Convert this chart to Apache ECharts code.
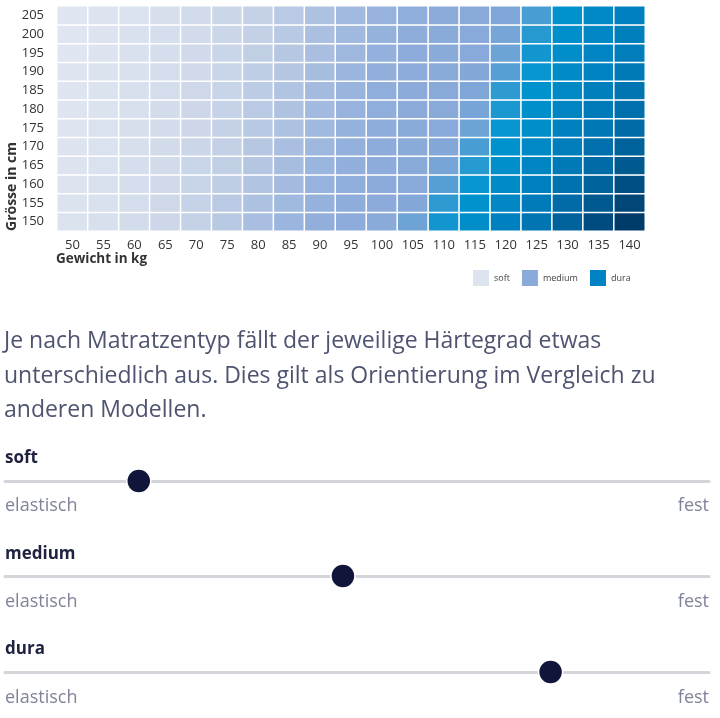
<!DOCTYPE html>
<html>
<head>
<meta charset="utf-8">
<script src="https://cdn.jsdelivr.net/npm/echarts@6/dist/echarts.min.js"></script>
<style>
  html, body { margin: 0; padding: 0; background: #fff; }
  #main { width: 720px; height: 718px; }
</style>
</head>
<body>
<div id="main"></div>
<script>
// axis categories
const weights = ['50', '55', '60', '65', '70', '75', '80', '85', '90', '95', '100',
    '105', '110', '115', '120', '125', '130', '135', '140'];
const heights = ['150', '155', '160', '165', '170', '175', '180', '185', '190', '195', '200', '205'];

// estimated hardness per cell (0 = softest, 100 = hardest), one array per height, weight 50..140
const h150 = [3, 6, 10, 14, 19, 25, 32, 38, 43, 46, 48, 55, 63, 69, 75, 81, 88, 95, 100];
const h155 = [3, 5, 9, 13, 18, 24, 30, 36, 41, 45, 47, 51, 60, 66, 72, 78, 85, 91, 97];
const h160 = [2, 5, 8, 12, 17, 22, 28, 34, 40, 44, 47, 50, 57, 64, 70, 75, 82, 88, 94];
const h165 = [2, 4, 8, 11, 16, 21, 27, 33, 38, 43, 46, 49, 53, 61, 68, 73, 79, 85, 91];
const h170 = [2, 4, 7, 11, 15, 20, 26, 32, 37, 42, 46, 48, 51, 58, 66, 71, 77, 83, 88];
const h175 = [1, 4, 7, 10, 14, 19, 25, 30, 36, 41, 45, 48, 50, 55, 64, 69, 75, 80, 85];
const h180 = [1, 3, 6, 10, 14, 18, 24, 29, 35, 40, 44, 47, 49, 53, 62, 68, 73, 78, 83];
const h185 = [1, 3, 6, 9, 13, 17, 23, 28, 34, 39, 44, 47, 49, 52, 60, 66, 71, 76, 81];
const h190 = [1, 3, 5, 9, 12, 16, 22, 27, 33, 38, 43, 46, 48, 51, 57, 64, 70, 74, 79];
const h195 = [0, 2, 5, 8, 12, 16, 21, 26, 32, 37, 42, 46, 48, 50, 55, 63, 69, 73, 77];
const h200 = [0, 2, 5, 8, 11, 15, 20, 25, 31, 36, 41, 45, 48, 50, 53, 61, 68, 72, 76];
const h205 = [0, 2, 4, 7, 11, 15, 19, 24, 30, 35, 40, 44, 47, 49, 52, 58, 66, 71, 75];
const hardnessRows = [h150, h155, h160, h165, h170, h175, h180, h185, h190, h195, h200, h205];

// mattress types and where each sits between elastisch (0) and fest (100)
const types = ['soft', 'medium', 'dura'];
const typeColors = ['#dce4ef', '#8aaadb', '#0082c4'];
const sliderValues = [19, 48, 77.5];

const paragraph = [
    'Je nach Matratzentyp fällt der jeweilige Härtegrad etwas',
    'unterschiedlich aus. Dies gilt als Orientierung im Vergleich zu',
    'anderen Modellen.'
];

let heatData = [];
hardnessRows.forEach((row, y) => {
    row.forEach((v, x) => heatData.push([x, y, v]));
});

const FONT = '"Open Sans", "Noto Sans", sans-serif';
const sliderTop = [479, 574, 670];
const labelY = [457, 553, 648];
const endY = [505, 601, 697];

let chart = echarts.init(document.getElementById('main'));

let grids = [{left: 57, top: 6, width: 588, height: 225}];
let xAxes = [{
    type: 'category', data: weights, gridIndex: 0,
    axisLine: {show: false}, axisTick: {show: false}, splitArea: {show: false},
    axisLabel: {margin: 8, fontSize: 13, color: '#333', fontFamily: FONT}
}];
let yAxes = [{
    type: 'category', data: heights, gridIndex: 0,
    axisLine: {show: false}, axisTick: {show: false},
    axisLabel: {margin: 13, fontSize: 13, color: '#333', fontFamily: FONT}
}];

let series = [{
    type: 'heatmap',
    xAxisIndex: 0, yAxisIndex: 0,
    data: heatData,
    itemStyle: {borderColor: '#fff', borderWidth: 1.5},
    emphasis: {disabled: true}
}];

// empty series only for the legend swatches
types.forEach((t, i) => {
    series.push({
        name: t, type: 'scatter', xAxisIndex: 0, yAxisIndex: 0,
        data: [], itemStyle: {color: typeColors[i], opacity: 1}
    });
});

let graphics = [
    {type: 'text', left: 56, top: 252,
        style: {text: 'Gewicht in kg', font: 'bold 13.5px ' + FONT, fill: '#333'}},
    {type: 'text', x: 5, y: 231, rotation: Math.PI / 2,
        style: {text: 'Grösse in cm', font: 'bold 14px ' + FONT, fill: '#333',
            align: 'left', verticalAlign: 'top'}}
];

paragraph.forEach((line, i) => {
    graphics.push({type: 'text', left: 4, top: 330 + i * 34.5,
        style: {text: line, font: '23px ' + FONT, fill: '#4e5370'}});
});

types.forEach((t, i) => {
    let gi = i + 1;
    grids.push({left: 5, width: 704, top: sliderTop[i], height: 2});
    xAxes.push({
        type: 'value', gridIndex: gi, min: 0, max: 100,
        axisLine: {show: true, onZero: false, lineStyle: {color: '#d4d5db', width: 3}},
        axisTick: {show: false}, axisLabel: {show: false}, splitLine: {show: false}
    });
    yAxes.push({type: 'value', gridIndex: gi, min: 0, max: 1, show: false});
    series.push({
        type: 'scatter', xAxisIndex: gi, yAxisIndex: gi,
        data: [[sliderValues[i], 0]],
        symbolSize: 24,
        itemStyle: {color: '#10163a', borderColor: '#fff', borderWidth: 1.5, opacity: 1},
        emphasis: {disabled: true}
    });
    graphics.push(
        {type: 'text', left: 5, top: labelY[i] - 7,
            style: {text: t, font: 'bold 17px ' + FONT, fill: '#1e2240'}},
        {type: 'text', left: 5, top: endY[i] - 8,
            style: {text: 'elastisch', font: '18px ' + FONT, fill: '#7f8397'}},
        {type: 'text', right: 11, top: endY[i] - 8,
            style: {text: 'fest', font: '18px ' + FONT, fill: '#7f8397'}}
    );
});

let option = {
    animation: false,
    grid: grids,
    xAxis: xAxes,
    yAxis: yAxes,
    visualMap: {
        show: false, seriesIndex: 0, min: 0, max: 100, calculable: false,
        inRange: {
            color: ['#dfe6f1', '#d9e1ee', '#d3dceb', '#cbd6e8', '#c3d0e6', '#b8c9e3',
                '#adc1e0', '#a2badf', '#97b3dd', '#8eaddb', '#88a9d9', '#6ea3d5',
                '#2f9ad2', '#0094ce', '#008bc7', '#0081bf', '#0077b5', '#006ba6',
                '#005c93', '#004c80', '#003c6a']
        }
    },
    legend: {
        data: types, left: 473, top: 270, padding: 0,
        itemWidth: 16, itemHeight: 16, itemGap: 12, icon: 'rect',
        selectedMode: false,
        textStyle: {fontSize: 9, color: '#444', fontFamily: FONT}
    },
    graphic: graphics,
    series: series
};

chart.setOption(option);

window.onresize = () => {
    chart.resize();
};
</script>
</body>
</html>
